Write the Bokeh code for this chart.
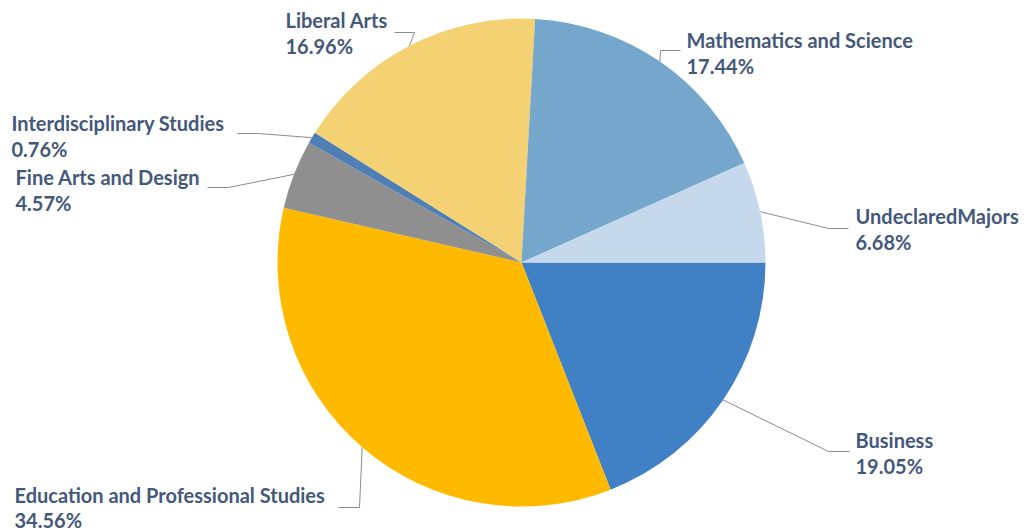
import math
from bokeh.plotting import figure
from bokeh.models import Range1d
from bokeh.core.properties import value
from bokeh.embed import file_html
from bokeh.resources import INLINE

# ---- data (clockwise from 3 o'clock) ----
categories = ["Business", "Education and Professional Studies", "Fine Arts and Design",
              "Interdisciplinary Studies", "Liberal Arts", "Mathematics and Science",
              "UndeclaredMajors"]
percents = [19.05, 34.56, 4.57, 0.76, 16.96, 17.44, 6.68]
colors = ["#4080C4", "#FFBA00", "#8F8F8F", "#4F7FB5", "#F4D274", "#75A7CD", "#C5D8EC"]

# ---- layout (page pixel coords, y downward) ----
W, H = 1026, 531
CX, CY, R = 521, 262, 244
# elbow x, elbow y, end x, end y, text x, first-line y, line gap
label_layout = [
    (828, 451, 849, 451, 855, 439, 26),
    (359, 507, 338, 507, 14, 494, 25),
    (228, 187, 207, 187, 15, 176, 26),
    (258, 133, 237, 133, 11, 122, 26),
    (414, 32, 394, 32, 285, 19, 26),
    (660, 50, 680, 50, 686, 39, 26),
    (828, 228, 848, 228, 855, 215, 26),
]
TEXT_COLOR = "#44587A"


def fy(y):
    return H - y


p = figure(width=W, height=H, output_backend="svg", toolbar_location=None,
           x_range=Range1d(0, W), y_range=Range1d(0, H),
           min_border=0, outline_line_color=None, background_fill_color="white",
           border_fill_color="white")
p.axis.visible = False
p.grid.visible = False

total = sum(percents)
cum = 0.0
starts, ends, mids = [], [], []
for v in percents:
    a0 = cum / total * 2 * math.pi
    cum += v
    a1 = cum / total * 2 * math.pi
    starts.append(-a1)
    ends.append(-a0)
    mids.append((a0 + a1) / 2)

p.wedge(x=CX, y=fy(CY), radius=R, start_angle=starts, end_angle=ends,
        direction="anticlock", fill_color=colors, line_color=None)

for cat, pct, m, lay in zip(categories, percents, mids, label_layout):
    ex, ey, tx, ty, lx, ly, gap = lay
    sx = CX + R * math.cos(m)
    sy = CY + R * math.sin(m)
    p.line([sx, ex, tx], [fy(sy), fy(ey), fy(ty)], line_color="#8C8C8C", line_width=1)
    p.text(x=[lx, lx], y=[fy(ly), fy(ly + gap)], text=[cat, f"{pct:.2f}%"],
           text_font=value("Lato"), text_font_style="bold", text_font_size="20px",
           text_color=TEXT_COLOR, text_align="left", text_baseline="middle")

open("out.html", "w").write(file_html(p, INLINE))
